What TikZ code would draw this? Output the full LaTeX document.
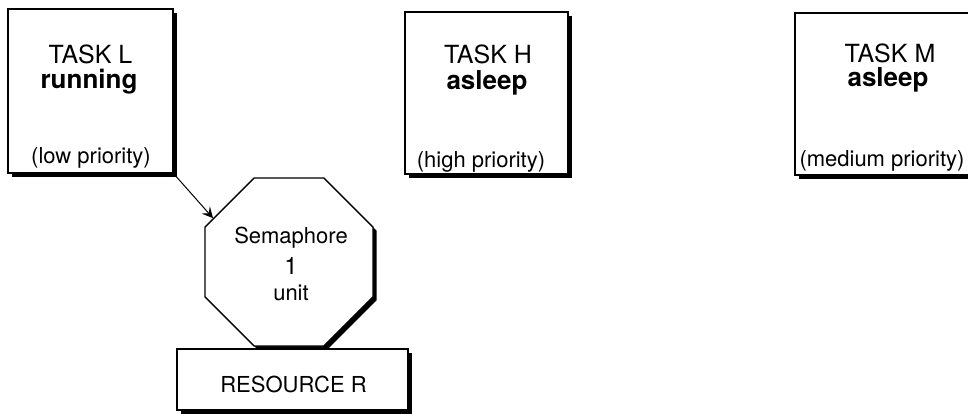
\documentclass[tikz,border=0pt]{standalone}
\usepackage{fontspec}
\setmainfont{TeX Gyre Heros}
\usetikzlibrary{shapes.geometric,shadows,arrows.meta}
\begin{document}
\begin{tikzpicture}[x=1pt,y=-1pt,
  shadowed/.style={draw=black, line width=1.3pt, fill=white,
    drop shadow={shadow xshift=3.5pt, shadow yshift=-3.5pt, opacity=1, fill=black}},
  taskbox/.style={shadowed, rectangle, inner sep=0pt},
  bigtxt/.style={font=\fontsize{25}{30}\selectfont, anchor=base, inner sep=0pt},
  boldtxt/.style={font=\bfseries\fontsize{26}{30}\selectfont, anchor=base, inner sep=0pt},
  smalltxt/.style={font=\fontsize{22}{26}\selectfont, anchor=base, inner sep=0pt},
  digittxt/.style={font=\fontsize{24}{28}\selectfont, anchor=base, inner sep=0pt},
]
\useasboundingbox (0,0) rectangle (968,413);

% task boxes
\node[taskbox, minimum width=165pt, minimum height=164pt] (L) at (90.5,91) {};
\node[taskbox, minimum width=163pt, minimum height=162pt] (H) at (486.5,93) {};
\node[taskbox, minimum width=182pt, minimum height=162pt] (M) at (886,94) {};

\node[bigtxt]   (Lt1) at (90.5,63)  {TASK L};
\node[boldtxt]  (Lt2) at (89,88)  {running};
\node[smalltxt] (Lt3) at (91,163) {(low priority)};

\node[bigtxt]   (Ht1) at (488,63)  {TASK H};
\node[boldtxt]  (Ht2) at (487,89)  {asleep};
\node[smalltxt] (Ht3) at (481,167) {(high priority)};

\node[bigtxt]   (Mt1) at (890,62)  {TASK M};
\node[boldtxt]  (Mt2) at (888,86)  {asleep};
\node[smalltxt] (Mt3) at (882,166) {(medium priority)};

% resource
\node[taskbox, minimum width=231pt, minimum height=61pt] (R) at (292.5,379.5) {};
\node[smalltxt] (Rt) at (293.5,392) {RESOURCE R};

% semaphore
\node[shadowed, regular polygon, regular polygon sides=8, minimum size=182pt, inner sep=0pt] (sem) at (289,262) {};
\node[smalltxt] (St1) at (291,243) {Semaphore};
\node[digittxt] (St2) at (291,274) {1};
\node[smalltxt] (St3) at (291,300) {unit};

% arrow
\draw[line width=1pt, -{Stealth[length=11pt,width=11pt,inset=4.5pt]}] (L.south east) -- (sem.150);
\end{tikzpicture}
\end{document}
